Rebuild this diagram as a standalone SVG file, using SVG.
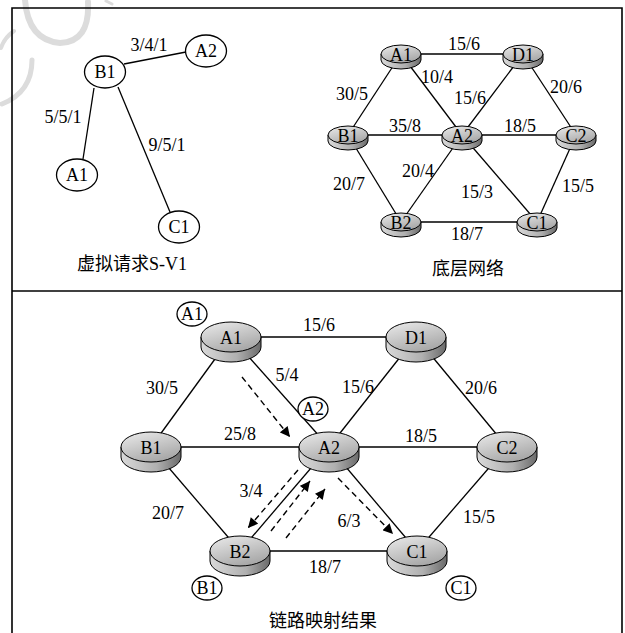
<svg xmlns="http://www.w3.org/2000/svg" xmlns:xlink="http://www.w3.org/1999/xlink" width="625" height="633" viewBox="0 0 625 633">
<style>
text{font-family:"Liberation Serif","Noto Sans CJK SC",serif;font-size:18px;fill:#000;text-anchor:middle}
.cn{font-family:"Liberation Serif","Noto Sans CJK SC",sans-serif;font-size:18px}
.lbl{font-size:18px}
.nl{font-size:18px}
.edge{stroke:#000;stroke-width:1.3;fill:none}
.dash{stroke:#000;stroke-width:1.4;fill:none;stroke-dasharray:6 4}
.frame{stroke:#000;stroke-width:1.6;fill:none}
.vn{fill:#fff;stroke:#000;stroke-width:1.3}
.side{fill:url(#gSide);stroke:#000;stroke-width:1}
.top{fill:url(#gTop);stroke:#000;stroke-width:1}
.wm{stroke:#dcdcdc;fill:none;stroke-linecap:round}
</style>
<defs>
<linearGradient id="gTop" x1="0" y1="0" x2="0.5" y2="1">
<stop offset="0" stop-color="#ececec"/>
<stop offset="1" stop-color="#a9a9a9"/>
</linearGradient>
<linearGradient id="gSide" x1="0" y1="0" x2="1" y2="0">
<stop offset="0" stop-color="#d9d9d9"/>
<stop offset="0.6" stop-color="#b0b0b0"/>
<stop offset="1" stop-color="#6a6a6a"/>
</linearGradient>
<g id="rL"><path class="side" d="M-30,0 V10 A30,15 0 0 0 30,10 V0 Z"/><ellipse class="top" rx="30" ry="15"/></g>
<g id="rS"><path class="side" d="M-20,0 V6 A20,9 0 0 0 20,6 V0 Z"/><ellipse class="top" rx="20" ry="9"/></g>
<marker id="ah" viewBox="0 0 10 10" refX="10" refY="5" markerWidth="11" markerHeight="10" markerUnits="userSpaceOnUse" orient="auto">
<path d="M0,0 L10,5 L0,10 Z" fill="#000"/>
</marker>
</defs>
<rect width="625" height="633" fill="#fff"/>
<g id="watermark">
<path class="wm" stroke-width="6" d="M25,0 Q28,40 60,43 Q90,42 88,2"/>
<path class="wm" stroke-width="4" d="M14,31 Q4,38 1,48"/>
<path class="wm" stroke-width="5" d="M32,60 Q32,92 2,104"/>
<path class="wm" stroke-width="3" d="M106,1 L112,4"/>
</g>
<g id="frame">
<path class="frame" d="M12,633 V8 H622 V633"/>
<line class="frame" x1="12" y1="291" x2="622" y2="291"/>
</g>
<g id="connectors">
<!-- virtual request -->
<line class="edge" x1="124" y1="64" x2="186" y2="52"/>
<line class="edge" x1="94" y1="88" x2="83" y2="159"/>
<line class="edge" x1="118" y1="87" x2="170" y2="212"/>
<!-- underlying network -->
<line class="edge" x1="401" y1="54" x2="523" y2="54"/>
<line class="edge" x1="401" y1="54" x2="348" y2="135"/>
<line class="edge" x1="401" y1="54" x2="462" y2="135"/>
<line class="edge" x1="523" y1="54" x2="462" y2="135"/>
<line class="edge" x1="523" y1="54" x2="576" y2="135"/>
<line class="edge" x1="348" y1="135" x2="576" y2="135"/>
<line class="edge" x1="348" y1="135" x2="401" y2="222"/>
<line class="edge" x1="462" y1="135" x2="401" y2="222"/>
<line class="edge" x1="462" y1="135" x2="537" y2="222"/>
<line class="edge" x1="576" y1="135" x2="537" y2="222"/>
<line class="edge" x1="401" y1="222" x2="537" y2="222"/>
<!-- mapping result -->
<line class="edge" x1="231" y1="337" x2="416" y2="337"/>
<line class="edge" x1="231" y1="337" x2="151" y2="447"/>
<line class="edge" x1="231" y1="337" x2="329" y2="447"/>
<line class="edge" x1="416" y1="337" x2="329" y2="447"/>
<line class="edge" x1="416" y1="337" x2="507" y2="447"/>
<line class="edge" x1="151" y1="447" x2="507" y2="447"/>
<line class="edge" x1="151" y1="447" x2="240" y2="551"/>
<line class="edge" x1="329" y1="447" x2="240" y2="551"/>
<line class="edge" x1="329" y1="447" x2="417" y2="551"/>
<line class="edge" x1="507" y1="447" x2="417" y2="551"/>
<line class="edge" x1="240" y1="551" x2="417" y2="551"/>
<!-- dashed mapping arrows -->
<line class="dash" x1="242" y1="377" x2="290" y2="437" marker-end="url(#ah)"/>
<line class="dash" x1="298" y1="470" x2="248" y2="528" marker-end="url(#ah)"/>
<line class="dash" x1="271" y1="531" x2="310" y2="481" marker-end="url(#ah)"/>
<line class="dash" x1="286" y1="538" x2="325" y2="489" marker-end="url(#ah)"/>
<line class="dash" x1="338" y1="478" x2="393" y2="534" marker-end="url(#ah)"/>
</g>
<!-- virtual request nodes -->
<g id="v-B1"><ellipse class="vn" cx="105" cy="72" rx="20.5" ry="16"/><text class="nl" x="105" y="78">B1</text></g>
<g id="v-A2"><ellipse class="vn" cx="206" cy="51" rx="20.5" ry="16"/><text class="nl" x="206" y="57">A2</text></g>
<g id="v-A1"><ellipse class="vn" cx="77" cy="175" rx="20.5" ry="16"/><text class="nl" x="77" y="181">A1</text></g>
<g id="v-C1"><ellipse class="vn" cx="179" cy="227" rx="20.5" ry="16"/><text class="nl" x="179" y="233">C1</text></g>
<g id="v-labels">
<text class="lbl" x="149" y="51">3/4/1</text>
<text class="lbl" x="63" y="123">5/5/1</text>
<text class="lbl" x="167" y="151">9/5/1</text>
<text class="cn" x="132" y="270">虚拟请求S-V1</text>
</g>
<!-- underlying network nodes -->
<g id="s-A1"><use xlink:href="#rS" x="401" y="54"/><text class="nl" x="401" y="61">A1</text></g>
<g id="s-D1"><use xlink:href="#rS" x="523" y="54"/><text class="nl" x="523" y="61">D1</text></g>
<g id="s-B1"><use xlink:href="#rS" x="348" y="135"/><text class="nl" x="348" y="142">B1</text></g>
<g id="s-A2"><use xlink:href="#rS" x="462" y="135"/><text class="nl" x="462" y="142">A2</text></g>
<g id="s-C2"><use xlink:href="#rS" x="576" y="135"/><text class="nl" x="576" y="142">C2</text></g>
<g id="s-B2"><use xlink:href="#rS" x="401" y="222"/><text class="nl" x="401" y="229">B2</text></g>
<g id="s-C1"><use xlink:href="#rS" x="537" y="222"/><text class="nl" x="537" y="229">C1</text></g>
<g id="s-labels">
<text class="lbl" x="464" y="50">15/6</text>
<text class="lbl" x="437" y="83">10/4</text>
<text class="lbl" x="352" y="100">30/5</text>
<text class="lbl" x="470" y="104">15/6</text>
<text class="lbl" x="566" y="93">20/6</text>
<text class="lbl" x="405" y="132">35/8</text>
<text class="lbl" x="520" y="132">18/5</text>
<text class="lbl" x="418" y="177">20/4</text>
<text class="lbl" x="349" y="190">20/7</text>
<text class="lbl" x="477" y="198">15/3</text>
<text class="lbl" x="578" y="192">15/5</text>
<text class="lbl" x="467" y="240">18/7</text>
<text class="cn" x="468" y="275">底层网络</text>
</g>
<!-- mapping result nodes -->
<g id="m-A1"><use xlink:href="#rL" x="231" y="337"/><text class="nl" x="231" y="344">A1</text></g>
<g id="m-D1"><use xlink:href="#rL" x="416" y="337"/><text class="nl" x="416" y="344">D1</text></g>
<g id="m-B1"><use xlink:href="#rL" x="151" y="447"/><text class="nl" x="151" y="454">B1</text></g>
<g id="m-A2"><use xlink:href="#rL" x="329" y="447"/><text class="nl" x="329" y="454">A2</text></g>
<g id="m-C2"><use xlink:href="#rL" x="507" y="447"/><text class="nl" x="507" y="454">C2</text></g>
<g id="m-B2"><use xlink:href="#rL" x="240" y="551"/><text class="nl" x="240" y="558">B2</text></g>
<g id="m-C1"><use xlink:href="#rL" x="417" y="551"/><text class="nl" x="417" y="558">C1</text></g>
<g id="tag-A1"><ellipse class="vn" cx="192" cy="314" rx="15" ry="12"/><text class="nl" x="192" y="320">A1</text></g>
<g id="tag-A2"><ellipse class="vn" cx="313" cy="409" rx="15" ry="12"/><text class="nl" x="313" y="415">A2</text></g>
<g id="tag-B1"><ellipse class="vn" cx="207" cy="588" rx="15" ry="12"/><text class="nl" x="207" y="594">B1</text></g>
<g id="tag-C1"><ellipse class="vn" cx="461" cy="588" rx="15" ry="12"/><text class="nl" x="461" y="594">C1</text></g>
<g id="m-labels">
<text class="lbl" x="319" y="331">15/6</text>
<text class="lbl" x="287" y="381">5/4</text>
<text class="lbl" x="162" y="394">30/5</text>
<text class="lbl" x="358" y="393">15/6</text>
<text class="lbl" x="481" y="394">20/6</text>
<text class="lbl" x="240" y="440">25/8</text>
<text class="lbl" x="421" y="442">18/5</text>
<text class="lbl" x="251" y="497">3/4</text>
<text class="lbl" x="168" y="519">20/7</text>
<text class="lbl" x="349" y="527">6/3</text>
<text class="lbl" x="479" y="523">15/5</text>
<text class="lbl" x="325" y="573">18/7</text>
<text class="cn" x="323" y="627">链路映射结果</text>
</g>
</svg>
